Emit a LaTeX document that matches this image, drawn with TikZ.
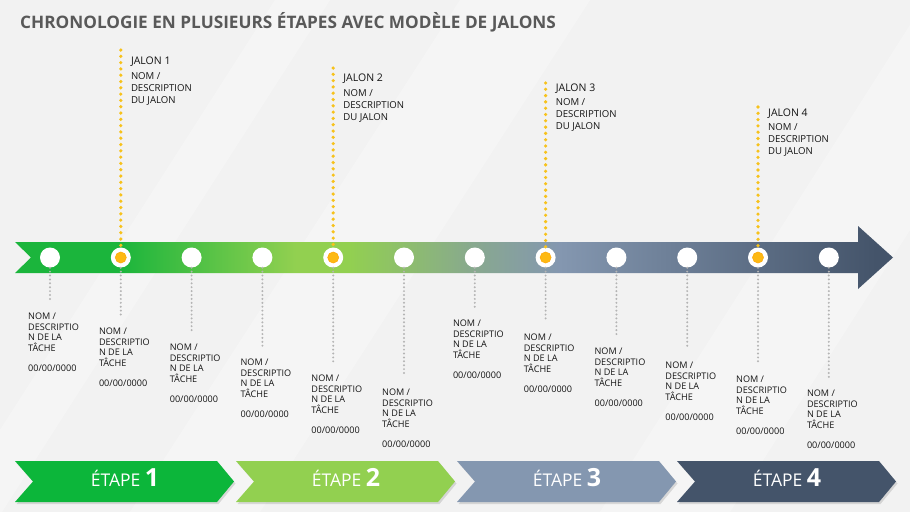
\documentclass[tikz,border=0pt]{standalone}
\usepackage{fontspec}
\setmainfont{Open Sans}
\usetikzlibrary{positioning,decorations.markings}

\definecolor{fond}{HTML}{F2F2F2}
\definecolor{titregris}{HTML}{595959}
\definecolor{texte}{HTML}{141414}
\definecolor{vert0}{HTML}{1BB53C}
\definecolor{etape1}{HTML}{0CB63A}
\definecolor{etape2}{HTML}{92D050}
\definecolor{mixe}{HTML}{88A98E}
\definecolor{etape3}{HTML}{8497B0}
\definecolor{etape4}{HTML}{44546A}
\definecolor{jaune}{HTML}{FDB913}
\definecolor{jauneligne}{HTML}{F7C21B}
\definecolor{grisligne}{HTML}{B4B4B4}

\pgfdeclarehorizontalshading{frise}{100bp}{color(0bp)=(vert0); color(25bp)=(vert0);
  color(31bp)=(vert0); color(41bp)=(etape2); color(44bp)=(etape2);
  color(51bp)=(mixe); color(56bp)=(etape3); color(74bp)=(etape4); color(100bp)=(etape4)}

\tikzset{
  rond/.style={circle,fill=white,minimum size=20pt,inner sep=0pt},
  point/.style={circle,fill=jaune,draw=jaune!75!orange,line width=.6pt,minimum size=11pt,inner sep=0pt},
  jalonligne/.style={postaction={decorate},decoration={markings,
      mark=between positions 0 and 1 step 6.3pt with {\fill[jauneligne] (0,0) circle (1.8pt);}}},
  tacheligne/.style={postaction={decorate},decoration={markings,
      mark=between positions 0 and 1 step 3.9pt with {\fill[grisligne] (0,0) circle (1.1pt);}}},
  jalontitre/.style={anchor=west,inner sep=0pt,text=texte,font=\fontsize{10.5}{12}\selectfont},
  jalontxt/.style={anchor=north west,align=left,inner sep=0pt,text=texte,font=\fontsize{9.6}{12}\selectfont},
  tache/.style={anchor=north west,align=left,inner sep=0pt,text=texte,font=\fontsize{9.1}{10.4}\selectfont},
  etapetxt/.style={anchor=base,inner sep=0pt,text=white,font=\fontsize{17.5}{19}\selectfont}
}

\begin{document}
\begin{tikzpicture}[x=1pt,y=-1pt]
  % fond

  \fill[fond] (0,0) rectangle (910,512);
  \fill[white,opacity=.3] (0,430) -- (275,0) -- (330,0) -- (0,515) -- cycle;
  \fill[white,opacity=.3] (130,512) -- (460,0) -- (590,0) -- (260,512) -- cycle;
  \fill[white,opacity=.3] (600,512) -- (910,25) -- (910,230) -- (730,512) -- cycle;

  \node[anchor=base west,inner sep=0pt,text=titregris,font=\fontsize{17.2}{20}\selectfont\bfseries] (titre) at (20,28)
    {CHRONOLOGIE EN PLUSIEURS ÉTAPES AVEC MODÈLE DE JALONS};

  % frise

  \path[shading=frise] (15,242) -- (858,242) -- (858,226) -- (893,257.5) -- (858,289)
    -- (858,273) -- (15,273) -- (31,257.5) -- cycle;

  \foreach \i in {1,...,12}{
    \pgfmathsetmacro\x{50+70.8*(\i-1)}
    \node[rond] (c\i) at (\x,257.5) {};
  }

  % taches

  \foreach \i/\ty in {1/317,2/332,3/348,4/363,5/379,6/393,7/324,8/338,9/352,10/366,11/380,12/394}{
    \pgfmathsetmacro\x{50+70.8*(\i-1)}
    \coordinate (b\i) at (\x,\ty-17);
    \path[tacheligne] (c\i.south) -- (b\i);
    \node[tache] (tache\i) at (\x-22,\ty-4) {NOM /\\DESCRIPTIO\\N DE LA\\TÂCHE\\[10.4pt]00/00/0000};
  }

  % jalons

  \foreach \j/\i/\top/\ly in {1/2/50/62,2/5/68/79,3/8/83/88.5,4/11/107/113.5}{
    \pgfmathsetmacro\x{50+70.8*(\i-1)}
    \coordinate (h\j) at (\x,\top);
    \path[jalonligne] (h\j) -- (c\i.north);
    \node[point] (p\j) at (c\i) {};
    \node[jalontitre] (jal\j) at (\x+10,\ly) {JALON \j};
    \node[jalontxt] (jd\j) at ([yshift=-5pt]jal\j.south west) {NOM /\\DESCRIPTION\\DU JALON};
  }

  % etapes

  \foreach \i/\x/\c in {1/15/etape1,2/236/etape2,3/457/etape3,4/677/etape4}{
    \fill[black,opacity=.12] (\x+1.5,463) -- ++(202,0) -- ++(17,20.5) -- ++(-17,20.5) -- ++(-202,0) -- ++(18,-20.5) -- cycle;
    \fill[\c] (\x,461) -- ++(202,0) -- ++(17,20.5) -- ++(-17,20.5) -- ++(-202,0) -- ++(18,-20.5) -- cycle;
    \node[etapetxt] (etape\i) at (\x+110,486.5) {ÉTAPE {\fontsize{25}{27}\selectfont\bfseries\i}};
  }

\end{tikzpicture}
\end{document}
